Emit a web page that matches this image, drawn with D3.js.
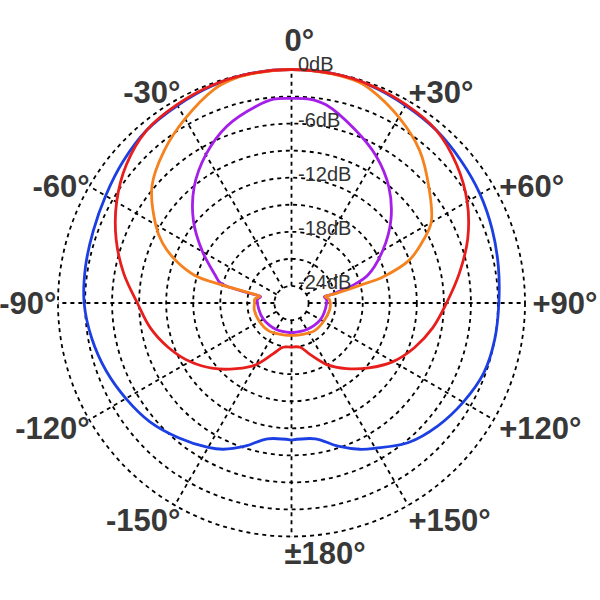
<!DOCTYPE html>
<html>
<head>
<meta charset="utf-8">
<script src="https://cdn.jsdelivr.net/npm/d3@7"></script>
<style>
  body { margin: 0; background: #fff; }
  svg { display: block; }
</style>
</head>
<body>
<svg width="600" height="600"></svg>
<script>
// grid
const ringDb = [0, -3, -6, -9, -12, -15, -18, -21, -24];
const ringLabelDb = [0, -6, -12, -18, -24];
const ringLabels = ["0dB", "-6dB", "-12dB", "-18dB", "-24dB"];
const spokeAngles = [0, 30, 60, 90, 120, 150, 180, -150, -120, -90, -60, -30];
const angleLabels = ["0°", "+30°", "+60°", "+90°", "+120°", "+150°", "±180°", "-150°", "-120°", "-90°", "-60°", "-30°"];

// polar response, [angle in degrees (clockwise +), level in dB]
const blue = [[-180,-10.7],[-170,-10.6],[-162,-9.2],[-155,-8.0],[-150,-7.4],[-140,-6.4],[-130,-5.4],[-120,-4.7],[-110,-4.0],[-100,-3.4],[-90,-2.9],[-80,-2.7],[-70,-2.5],[-60,-2.1],[-50,-1.5],[-40,-0.9],[-30,-0.6],[-20,-0.25],[-10,-0.05],[0,0],[10,-0.05],[20,-0.25],[30,-0.6],[40,-0.9],[50,-1.35],[60,-1.75],[70,-2.2],[80,-2.6],[90,-2.9],[100,-3.0],[110,-3.2],[120,-3.9],[130,-4.7],[140,-5.7],[150,-7.3],[155,-8.0],[162,-9.2],[170,-10.6],[180,-10.7]];
const red = [[-180,-21.0],[-169,-20.9],[-160,-19.9],[-150,-18.0],[-140,-16.4],[-130,-14.6],[-120,-12.9],[-110,-11.4],[-100,-10.0],[-90,-8.8],[-80,-7.0],[-70,-5.2],[-60,-3.5],[-50,-2.0],[-40,-0.9],[-30,-0.5],[-20,-0.2],[-10,-0.05],[0,0],[10,-0.05],[20,-0.2],[30,-0.5],[40,-0.9],[50,-2.0],[60,-3.4],[70,-5.1],[80,-7.0],[90,-8.7],[100,-10.0],[110,-11.4],[120,-12.9],[130,-14.7],[140,-16.4],[150,-18.0],[160,-19.8],[169,-20.9],[180,-21.0]];
const orange = [[-180,-22.3],[-160,-22.2],[-140,-21.9],[-120,-21.8],[-100,-21.7],[-90,-21.8],[-84,-21.8],[-78.5,-22.3],[-76.5,-21.0],[-75.5,-17.9],[-74,-14.7],[-70,-12.3],[-65,-10.1],[-60,-8.5],[-50,-5.7],[-40,-3.9],[-30,-2.3],[-20,-0.7],[-15,-0.25],[-10,-0.1],[0,0],[10,-0.1],[17,-0.3],[20,-0.6],[30,-2.1],[40,-3.8],[50,-6.0],[60,-8.0],[65,-9.9],[70,-12.0],[74,-15.3],[75.5,-18.0],[78,-20.9],[79.3,-22.1],[84,-21.7],[90,-21.6],[100,-21.6],[120,-21.8],[140,-21.9],[160,-22.2],[180,-22.3]];
const purple = [[-180,-22.6],[-150,-22.5],[-120,-22.3],[-100,-22.2],[-84,-22.1],[-78.5,-22.4],[-77,-21.2],[-75.5,-18.5],[-74,-17.6],[-70,-16.9],[-60,-14.5],[-50,-11.7],[-40,-9.1],[-30,-6.9],[-20,-5.0],[-10,-3.7],[-5,-3.2],[0,-3.2],[5,-3.2],[10,-3.6],[20,-5.4],[30,-7.1],[40,-9.1],[50,-11.5],[60,-14.2],[70,-16.9],[74,-18.9],[76,-20.3],[78,-21.3],[79.3,-22.2],[84,-22.0],[90,-22.0],[120,-22.2],[150,-22.5],[180,-22.6]];

const series = [
  { data: blue, color: "#1c3fe3" },
  { data: purple, color: "#a51fe8" },
  { data: orange, color: "#f5821e" },
  { data: red, color: "#e81e1c" }
];

const cx = 291.5, cy = 303;
const rad = d => d * Math.PI / 180;
const r = d3.scaleLinear().domain([-25.9, 0]).range([0, 233.5]);

const svg = d3.select("svg");
const g = svg.append("g").attr("transform", `translate(${cx},${cy})`);

// dotted rings
g.selectAll(".ring").data(ringDb).join("circle")
  .attr("r", d => r(d))
  .attr("fill", "none")
  .attr("stroke", "#000")
  .attr("stroke-width", 1.8)
  .attr("stroke-dasharray", "4,4");

// dotted spokes
g.selectAll(".spoke").data(spokeAngles).join("line")
  .attr("x1", d => r(-24) * Math.sin(rad(d)))
  .attr("y1", d => -r(-24) * Math.cos(rad(d)))
  .attr("x2", d => r(0) * Math.sin(rad(d)))
  .attr("y2", d => -r(0) * Math.cos(rad(d)))
  .attr("stroke", "#000")
  .attr("stroke-width", 1.8)
  .attr("stroke-dasharray", "4,4");

// curves
const line = d3.lineRadial()
  .angle(d => rad(d[0]))
  .radius(d => r(d[1]))
  .curve(d3.curveCatmullRom.alpha(0.5));

series.forEach(s => {
  g.append("path")
    .attr("d", line(s.data))
    .attr("fill", "none")
    .attr("stroke", s.color)
    .attr("stroke-width", 2.8)
    .attr("stroke-linejoin", "round");
});

// dB labels
g.selectAll(".dbl").data(ringLabelDb).join("text")
  .attr("x", 6.5)
  .attr("y", d => -r(d) - (d === 0 ? 6 : 4))
  .attr("dy", "0.35em")
  .attr("font-family", "'Liberation Sans', Arial, sans-serif")
  .attr("font-size", 20)
  .attr("fill", "#333")
  .text((d, i) => ringLabels[i]);

// angle labels
g.selectAll(".al").data(spokeAngles).join("text")
  .attr("text-anchor", d => d >= 0 ? "start" : "end")
  .attr("x", d => d >= 0 ? 248 * Math.sin(rad(d)) - 7 : 248 * Math.sin(rad(d)) + 13)
  .attr("y", d => {
    const c = Math.cos(rad(d)), s = Math.abs(Math.sin(rad(d)));
    const R = c > 0.01 ? (s > 0.01 ? 258 : 263) : 250;
    return -R * c + (c > 0.01 && s > 0.01 ? 12 : 0) + 11;
  })
  .attr("font-family", "'Liberation Sans', Arial, sans-serif")
  .attr("font-weight", "bold")
  .attr("font-size", 31)
  .attr("fill", "#383838")
  .text((d, i) => angleLabels[i]);
</script>
</body>
</html>
